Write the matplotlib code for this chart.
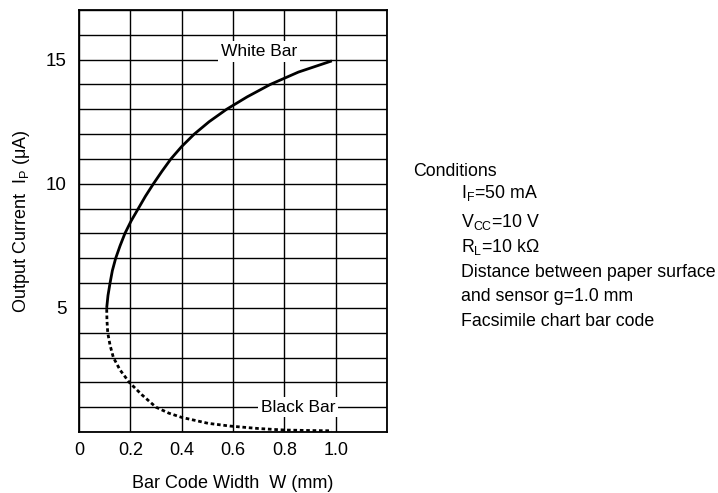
import matplotlib
matplotlib.use("Agg")
import matplotlib.pyplot as plt

fam = "Liberation Sans"
plt.rcParams['font.family'] = [fam, 'DejaVu Sans']
plt.rcParams['mathtext.fontset'] = 'custom'
plt.rcParams['mathtext.rm'] = fam
plt.rcParams['mathtext.it'] = fam

# White bar (solid) curve
white_x = [0.108, 0.113, 0.121, 0.130, 0.143, 0.160, 0.179, 0.203, 0.231, 0.259, 0.290,
           0.323, 0.358, 0.400, 0.449, 0.507, 0.575, 0.655, 0.745, 0.855, 0.985]
white_y = [5.0, 5.5, 6.0, 6.5, 7.0, 7.5, 8.0, 8.5, 9.0, 9.5, 10.0,
           10.5, 11.0, 11.5, 12.0, 12.5, 13.0, 13.5, 14.0, 14.5, 14.95]
# Black bar (dashed) curve
black_x = [0.108, 0.109, 0.112, 0.121, 0.134, 0.160, 0.196, 0.245, 0.300, 0.350, 0.400,
           0.503, 0.588, 0.700, 0.800, 0.900, 0.985]
black_y = [4.95, 4.5, 4.0, 3.5, 3.0, 2.5, 2.0, 1.5, 1.0, 0.76, 0.59,
           0.35, 0.24, 0.14, 0.08, 0.06, 0.05]

xticks = [0, 0.2, 0.4, 0.6, 0.8, 1.0]
xticklabels = ["0", "0.2", "0.4", "0.6", "0.8", "1.0"]
yticks = [5, 10, 15]
yticklabels = ["5", "10", "15"]

fig = plt.figure(figsize=(7.18, 4.93), dpi=100)
ax = fig.add_axes([0.110, 0.1237, 0.429, 0.856])
ax.set_xlim(0, 1.2)
ax.set_ylim(0, 17)
ax.set_xticks(xticks)
ax.set_xticklabels(xticklabels, fontsize=13)
ax.set_yticks(yticks)
ax.set_yticklabels(yticklabels, fontsize=13.5)
ax.set_xticks([i * 0.2 for i in range(7)], minor=True)
ax.set_yticks(range(0, 18), minor=True)
ax.tick_params(which='both', length=0)
ax.tick_params(axis='y', pad=9)
ax.tick_params(axis='x', pad=7)
ax.grid(which='both', color='black', linewidth=1.0)
ax.set_axisbelow(True)
for s in ax.spines.values():
    s.set_linewidth(1.3)

ax.plot(white_x, white_y, color='black', linewidth=2.0, solid_capstyle='butt',
        solid_joinstyle='round')
ax.plot(black_x, black_y, color='black', linewidth=2.0, linestyle=(0, (1.3, 1.0)))

ax.text(0.70, 15.03, "White Bar", ha='center', va='bottom', fontsize=12.5,
        bbox=dict(facecolor='white', edgecolor='none', pad=2.0))
ax.text(0.855, 1.0, "Black Bar", ha='center', va='center', fontsize=12.5,
        bbox=dict(facecolor='white', edgecolor='none', pad=2.0))

ax.set_xlabel("Bar Code Width  W (mm)", fontsize=13, labelpad=12)
ax.set_ylabel(r"Output Current  I$_\mathrm{P}$ (μA)", fontsize=13, labelpad=10)

lines = [
    (413, 176, "Conditions"),
    (461, 198, r"I$_\mathrm{F}$=50 mA"),
    (461, 227, r"V$_\mathrm{CC}$=10 V"),
    (461, 252, r"R$_\mathrm{L}$=10 kΩ"),
    (461, 277, "Distance between paper surface"),
    (461, 301, "and sensor g=1.0 mm"),
    (461, 326, "Facsimile chart bar code"),
]
for x, y, t in lines:
    fig.text(x / 718, 1 - y / 493, t, fontsize=12.8, ha='left', va='baseline')

fig.savefig("out.png", dpi=100)
